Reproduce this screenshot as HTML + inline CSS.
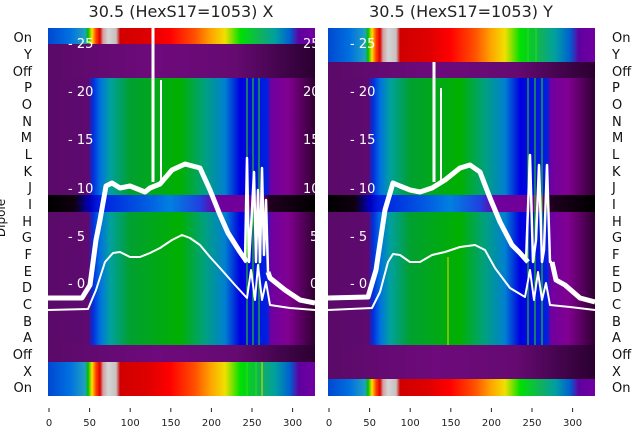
<!DOCTYPE html>
<html><head><meta charset="utf-8"><style>
body{margin:0;background:#fff;width:640px;height:440px;overflow:hidden}
text{font-family:"DejaVu Sans","Liberation Sans",sans-serif}
</style></head><body>
<svg width="640" height="440" viewBox="0 0 640 440" xmlns="http://www.w3.org/2000/svg">
<defs>
<linearGradient id="spec" x1="0" x2="1" y1="0" y2="0">
<stop offset="0" stop-color="#0048d0"/><stop offset=".082" stop-color="#0070e0"/><stop offset=".139" stop-color="#20a0c0"/>
<stop offset=".15" stop-color="#00c000"/><stop offset=".165" stop-color="#ffe000"/><stop offset=".18" stop-color="#ff4000"/>
<stop offset=".195" stop-color="#e00000"/><stop offset=".206" stop-color="#d0a0a0"/><stop offset=".225" stop-color="#d4d4d4"/>
<stop offset=".255" stop-color="#c8c0c0"/><stop offset=".27" stop-color="#d00000"/><stop offset=".382" stop-color="#e00000"/>
<stop offset=".457" stop-color="#ff0000"/><stop offset=".55" stop-color="#ff5000"/><stop offset=".607" stop-color="#ffa000"/>
<stop offset=".663" stop-color="#f0e000"/><stop offset=".72" stop-color="#00e000"/><stop offset=".8" stop-color="#10b060"/>
<stop offset=".85" stop-color="#00a0a0"/><stop offset=".906" stop-color="#0060d0"/><stop offset=".94" stop-color="#6000a0"/>
<stop offset="1" stop-color="#7000a0"/></linearGradient>
<linearGradient id="main" x1="0" x2="1" y1="0" y2="0">
<stop offset="0" stop-color="#5a0a68"/><stop offset=".15" stop-color="#5e0a70"/><stop offset=".17" stop-color="#0030e0"/>
<stop offset=".195" stop-color="#0070e0"/><stop offset=".232" stop-color="#00a0a0"/><stop offset=".307" stop-color="#00a030"/>
<stop offset=".494" stop-color="#00b000"/><stop offset=".588" stop-color="#00a080"/><stop offset=".663" stop-color="#0080d0"/>
<stop offset=".72" stop-color="#0000e0"/><stop offset=".82" stop-color="#0020e0"/><stop offset=".835" stop-color="#7000a0"/>
<stop offset=".9" stop-color="#800090"/><stop offset="1" stop-color="#300030"/></linearGradient>
<linearGradient id="purp" x1="0" x2="1" y1="0" y2="0">
<stop offset="0" stop-color="#5a0a68"/><stop offset=".4" stop-color="#6e0a7c"/><stop offset=".7" stop-color="#660a72"/><stop offset="1" stop-color="#2a0030"/></linearGradient>
<linearGradient id="rowi" x1="0" x2="1" y1="0" y2="0">
<stop offset="0" stop-color="#000"/><stop offset=".1" stop-color="#100010"/><stop offset=".157" stop-color="#0000c0"/>
<stop offset=".195" stop-color="#0020e0"/><stop offset=".38" stop-color="#0060e0"/><stop offset=".457" stop-color="#0080e0"/>
<stop offset=".57" stop-color="#2040e0"/><stop offset=".625" stop-color="#7000a0"/><stop offset=".8" stop-color="#700090"/>
<stop offset=".83" stop-color="#200020"/><stop offset="1" stop-color="#000"/></linearGradient>
<clipPath id="cl"><rect x="48" y="28" width="267" height="368"/></clipPath>
<clipPath id="cr"><rect x="328" y="28" width="267" height="368"/></clipPath>
</defs>
<text x="181" y="17" font-size="16" text-anchor="middle" fill="#222">30.5 (HexS17=1053) X</text>
<text x="461" y="17" font-size="16" text-anchor="middle" fill="#222">30.5 (HexS17=1053) Y</text>

<g clip-path="url(#cl)">
<rect x="48" y="28" width="267" height="16" fill="url(#spec)"/>
<rect x="48" y="44" width="267" height="34" fill="url(#purp)"/>
<rect x="48" y="78" width="267" height="267" fill="url(#main)"/>
<rect x="48" y="195" width="267" height="17" fill="url(#rowi)"/>
<rect x="48" y="345" width="267" height="17" fill="url(#purp)"/>
<rect x="48" y="362" width="267" height="34" fill="url(#spec)"/>
<g stroke="#30e000" stroke-width="1"><line x1="247" y1="78" x2="247" y2="345"/><line x1="253" y1="78" x2="253" y2="345"/><line x1="259" y1="78" x2="259" y2="345"/><line x1="247" y1="362" x2="247" y2="396"/><line x1="256" y1="362" x2="256" y2="396"/><line x1="262" y1="362" x2="262" y2="396" stroke="#e0e000"/></g>
<g fill="none" stroke="#fff" stroke-linejoin="round">
<polyline stroke-width="5" points="48,298 82,298 90,285 96,240 100,220 106,186 112,183 120,188 130,186 145,192 150,188 160,184 172,170 185,164 200,168 210,190 220,215 228,233 240,252 247,262"/>
<polyline stroke-width="5" points="268,272 270,278 285,290 300,300 315,303"/>
<polyline stroke-width="2.5" points="245,262 247,158 249,262 252,210 254,172 256,262 258,190 260,262 262,168 264,255 266,200 268,272"/>
<polyline stroke-width="2" points="48,310 88,309 96,290 105,262 113,253 120,252 130,257 140,257 150,253 160,248 172,240 182,235 190,238 200,245 210,257 220,268 235,285 247,298 251,270 255,300 258,265 262,300 266,282 270,305 290,308 315,310"/>
<line stroke-width="3" x1="153" y1="28" x2="153" y2="182"/><line stroke-width="2" x1="161" y1="80" x2="161" y2="182"/>
</g>
<g fill="#fff" font-size="13"><text x="68" y="48">- 25</text><text x="68" y="96">- 20</text><text x="68" y="144">- 15</text><text x="68" y="193">- 10</text><text x="68" y="241">- 5</text><text x="68" y="288">- 0</text>
<text x="303" y="48">25</text><text x="303" y="96">20</text><text x="303" y="144">15</text><text x="303" y="193">10</text><text x="310" y="241">5</text><text x="310" y="288">0</text></g>
</g>

<g clip-path="url(#cr)">
<rect x="328" y="28" width="267" height="34" fill="url(#spec)"/>
<rect x="328" y="62" width="267" height="16" fill="url(#purp)"/>
<rect x="328" y="78" width="267" height="267" fill="url(#main)"/>
<rect x="328" y="195" width="267" height="17" fill="url(#rowi)"/>
<rect x="328" y="345" width="267" height="34" fill="url(#purp)"/>
<rect x="328" y="379" width="267" height="17" fill="url(#spec)"/>
<g stroke="#30e000" stroke-width="1"><line x1="528" y1="78" x2="528" y2="345"/><line x1="535" y1="78" x2="535" y2="345"/><line x1="542" y1="78" x2="542" y2="345"/><line x1="528" y1="28" x2="528" y2="62"/><line x1="536" y1="28" x2="536" y2="62"/><line x1="448" y1="257" x2="448" y2="345" stroke="#e0e000"/></g>
<g fill="none" stroke="#fff" stroke-linejoin="round">
<polyline stroke-width="5" points="328,298 368,297 376,270 385,210 393,183 400,186 410,190 420,192 432,188 445,180 460,168 470,165 480,172 490,198 500,222 512,245 520,253 528,262"/>
<polyline stroke-width="5" points="552,262 556,280 565,285 580,298 595,302"/>
<polyline stroke-width="2.5" points="526,262 530,155 533,262 536,240 539,165 542,262 544,250 547,165 550,262 552,262"/>
<polyline stroke-width="2" points="328,310 372,308 380,292 388,262 393,254 400,255 410,262 420,262 432,255 445,252 460,247 475,245 485,250 495,268 510,288 525,297 530,270 534,300 538,272 542,300 546,283 550,305 570,307 595,310"/>
<line stroke-width="3" x1="434" y1="62" x2="434" y2="182"/><line stroke-width="2" x1="441" y1="88" x2="441" y2="182"/>
</g>
<g fill="#fff" font-size="13"><text x="350" y="48">- 25</text><text x="350" y="96">- 20</text><text x="350" y="144">- 15</text><text x="350" y="193">- 10</text><text x="350" y="241">- 5</text><text x="350" y="288">- 0</text></g>
</g>

<g font-size="13" fill="#111" text-anchor="end">
<text x="32" y="42">On</text><text x="32" y="59">Y</text><text x="32" y="76">Off</text><text x="32" y="92">P</text><text x="32" y="109">O</text><text x="32" y="126">N</text><text x="32" y="142">M</text><text x="32" y="159">L</text><text x="32" y="176">K</text><text x="32" y="192">J</text><text x="32" y="209">I</text><text x="32" y="226">H</text><text x="32" y="242">G</text><text x="32" y="259">F</text><text x="32" y="276">E</text><text x="32" y="292">D</text><text x="32" y="309">C</text><text x="32" y="326">B</text><text x="32" y="342">A</text><text x="32" y="359">Off</text><text x="32" y="376">X</text><text x="32" y="392">On</text>
</g>
<g font-size="13" fill="#111">
<text x="612" y="42">On</text><text x="612" y="59">Y</text><text x="612" y="76">Off</text><text x="612" y="92">P</text><text x="612" y="109">O</text><text x="612" y="126">N</text><text x="612" y="142">M</text><text x="612" y="159">L</text><text x="612" y="176">K</text><text x="612" y="192">J</text><text x="612" y="209">I</text><text x="612" y="226">H</text><text x="612" y="242">G</text><text x="612" y="259">F</text><text x="612" y="276">E</text><text x="612" y="292">D</text><text x="612" y="309">C</text><text x="612" y="326">B</text><text x="612" y="342">A</text><text x="612" y="359">Off</text><text x="612" y="376">X</text><text x="612" y="392">On</text>
</g>
<text transform="translate(5,218) rotate(-90)" font-size="12" fill="#111" text-anchor="middle">Dipole</text>

<g stroke="#222" stroke-width="1">
<line x1="49" y1="408" x2="49" y2="412"/><line x1="89.6" y1="408" x2="89.6" y2="412"/><line x1="130.2" y1="408" x2="130.2" y2="412"/><line x1="170.8" y1="408" x2="170.8" y2="412"/><line x1="211.4" y1="408" x2="211.4" y2="412"/><line x1="252" y1="408" x2="252" y2="412"/><line x1="292.6" y1="408" x2="292.6" y2="412"/>
<line x1="329" y1="408" x2="329" y2="412"/><line x1="369.6" y1="408" x2="369.6" y2="412"/><line x1="410.2" y1="408" x2="410.2" y2="412"/><line x1="450.8" y1="408" x2="450.8" y2="412"/><line x1="491.4" y1="408" x2="491.4" y2="412"/><line x1="532" y1="408" x2="532" y2="412"/><line x1="572.6" y1="408" x2="572.6" y2="412"/>
</g>
<g font-size="10" fill="#222" text-anchor="middle">
<text x="49" y="426">0</text><text x="89.6" y="426">50</text><text x="130.2" y="426">100</text><text x="170.8" y="426">150</text><text x="211.4" y="426">200</text><text x="252" y="426">250</text><text x="292.6" y="426">300</text>
<text x="329" y="426">0</text><text x="369.6" y="426">50</text><text x="410.2" y="426">100</text><text x="450.8" y="426">150</text><text x="491.4" y="426">200</text><text x="532" y="426">250</text><text x="572.6" y="426">300</text>
</g>
</svg>
</body></html>
